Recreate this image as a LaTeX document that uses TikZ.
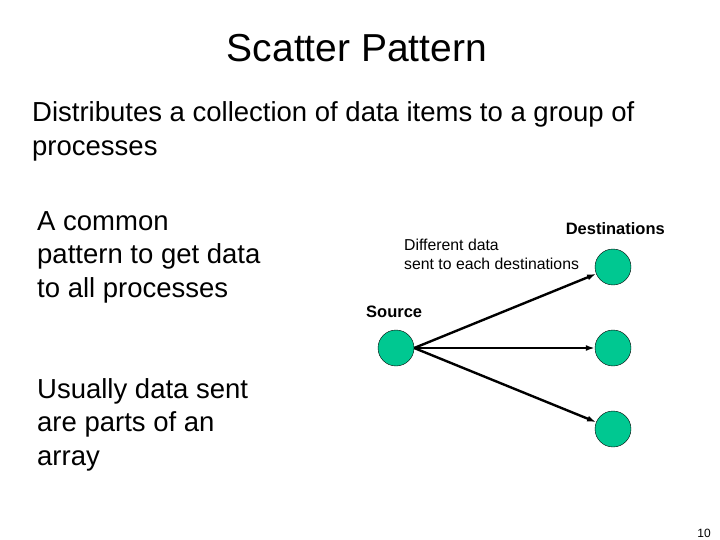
\documentclass[tikz,border=0pt]{standalone}
\usepackage{fontspec}
\setmainfont{Liberation Sans}
\usetikzlibrary{arrows.meta}
\definecolor{procgreen}{RGB}{0,200,145}
\tikzset{
  proc/.style={circle, draw=black, fill=procgreen, minimum size=36pt, inner sep=0pt},
  bigtext/.style={anchor=west, align=left, inner sep=0pt, font=\fontsize{27.5}{33.5}\selectfont},
  msg/.style={-{Latex[length=9pt,width=6pt]}, line width=2.4pt}
}
\begin{document}
\begin{tikzpicture}[x=1pt, y=-1pt]
  \useasboundingbox (0,0) rectangle (720,540);
  % Title
  \node[inner sep=0pt, font=\fontsize{39}{44}\selectfont] (title) at (357,48) {Scatter Pattern};
  % Text blocks
  \node[bigtext] (intro) at (32,131.5) {Distributes a collection of data items to a group of\\processes};
  \node[bigtext] (common) at (37,257) {A common\\pattern to get data\\to all processes};
  \node[bigtext] (usual) at (37,424.5) {Usually data sent\\are parts of an\\array};
  % Processes
  \node[proc] (src) at (396,348) {};
  \node[proc] (dst1) at (613,267) {};
  \node[proc] (dst2) at (613,348) {};
  \node[proc] (dst3) at (613,429) {};
  % Labels
  \node[anchor=east, inner sep=0pt, font=\bfseries\fontsize{16.5}{18}\selectfont] (dstlabel) at (665,229) {Destinations};
  \node[anchor=west, inner sep=0pt, font=\bfseries\fontsize{16.5}{18}\selectfont] (srclabel) at (366,312) {Source};
  \node[anchor=west, align=left, inner sep=0pt, font=\fontsize{15.8}{19}\selectfont] (note) at (404,254) {Different data\\sent to each destinations};
  % Arrows
  \draw[msg] (src.east) -- (dst1);
  \draw[msg] (src.east) -- (dst2);
  \draw[msg] (src.east) -- (dst3);
  % Page number
  \node[inner sep=0pt, font=\fontsize{12}{14}\selectfont] (page) at (704,533) {10};
\end{tikzpicture}
\end{document}
